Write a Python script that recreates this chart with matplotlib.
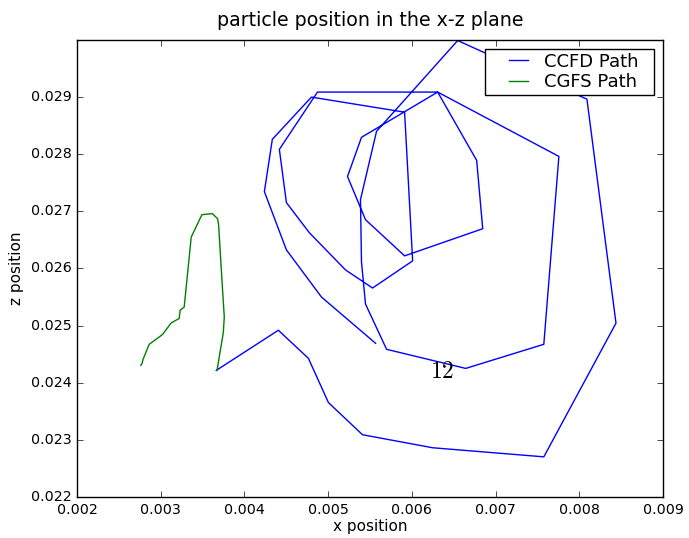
import matplotlib
matplotlib.use("Agg")
import matplotlib.pyplot as plt
from matplotlib.legend_handler import HandlerLine2D

plt.style.use("classic")
plt.rcParams["mathtext.fontset"] = "cm"

# CCFD path (x, z)
ccfd_x = [0.003663, 0.004405, 0.004764, 0.005003, 0.005410, 0.006248, 0.007576,
          0.008438, 0.008091, 0.006547, 0.005578, 0.005386, 0.005398, 0.005446,
          0.005698, 0.006643, 0.007576, 0.007756, 0.006308, 0.006774, 0.006846,
          0.005913, 0.005446, 0.005231, 0.005398, 0.006308, 0.004872, 0.004417,
          0.004501, 0.004776, 0.005207, 0.005530, 0.006009, 0.005913, 0.004800,
          0.004333, 0.004238, 0.004501, 0.004920, 0.005566]
ccfd_z = [0.024216, 0.024919, 0.024427, 0.023653, 0.023090, 0.022862, 0.022703,
          0.025043, 0.028964, 0.029990, 0.028402, 0.027206, 0.026115, 0.025377,
          0.024585, 0.024251, 0.024673, 0.027962, 0.029088, 0.027892, 0.026696,
          0.026221, 0.026854, 0.027610, 0.028296, 0.029088, 0.029088, 0.028085,
          0.027153, 0.026625, 0.025975, 0.025658, 0.026133, 0.028736, 0.029000,
          0.028261, 0.027346, 0.026326, 0.025500, 0.024691]

# CGFS path (x, z)
cgfs_x = [0.003672, 0.003747, 0.003759, 0.003731, 0.003691, 0.003679, 0.003616,
          0.003492, 0.003364, 0.003280, 0.003232, 0.003220, 0.003125, 0.003021,
          0.002862, 0.002787, 0.002778, 0.002762]
cgfs_z = [0.024216, 0.024873, 0.025148, 0.025799, 0.026766, 0.026872, 0.026960,
          0.026942, 0.026549, 0.025324, 0.025271, 0.025125, 0.025048, 0.024844,
          0.024673, 0.024403, 0.024343, 0.024304]

fig = plt.figure(figsize=(6.89, 5.38), dpi=100, facecolor="white")
ax = fig.add_axes([0.1118, 0.0762, 0.8505, 0.8495])

ax.plot(ccfd_x, ccfd_z, color="b", label="CCFD Path  ")
ax.plot(cgfs_x, cgfs_z, color="g", label="CGFS Path  ")
ax.text(0.006212, 0.024075, r"$12$", fontsize=17, ha="left", va="baseline")

ax.set_xlim(0.002, 0.009)
ax.set_ylim(0.022, 0.030)
ax.set_xticks([0.002, 0.003, 0.004, 0.005, 0.006, 0.007, 0.008, 0.009])
ax.set_yticks([0.022, 0.023, 0.024, 0.025, 0.026, 0.027, 0.028, 0.029])
ax.tick_params(labelsize=10.3)

ax.set_title("particle position in the x-z plane", fontsize=13.7, pad=10)
ax.set_xlabel("x position", fontsize=11, labelpad=2)
ax.set_ylabel("z position", fontsize=11)

handler = HandlerLine2D(xpad=0.85)
ax.legend(loc="upper right", fontsize=13, handlelength=2.5, handletextpad=0.6,
          borderpad=0.2, labelspacing=0.15,
          handler_map={ln: handler for ln in ax.get_lines()})

fig.savefig("out.png", dpi=100, facecolor="white")
